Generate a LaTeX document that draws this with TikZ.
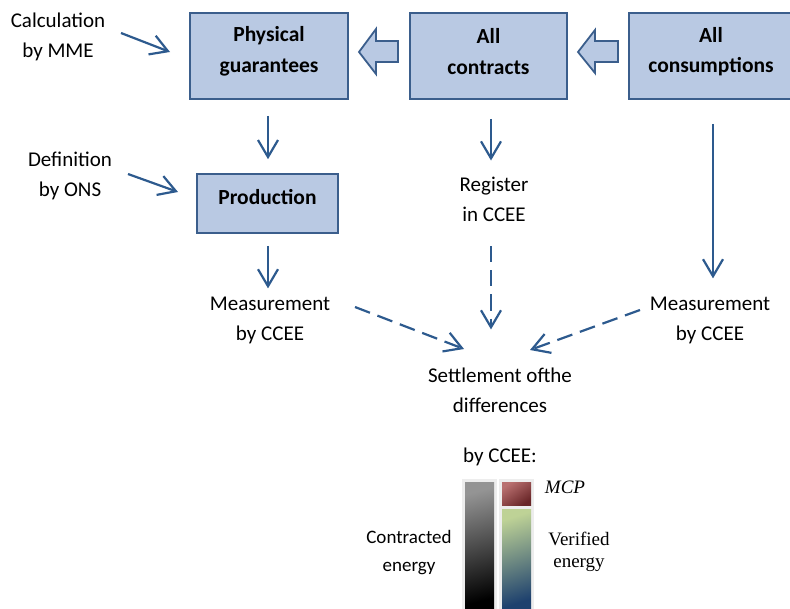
\documentclass[tikz,border=0pt]{standalone}
\usepackage{fontspec}
\setmainfont{Carlito}
\newfontfamily\timesf{Liberation Serif}
\usetikzlibrary{arrows.meta}
\definecolor{boxfill}{HTML}{B9C9E3}
\definecolor{boxline}{HTML}{3B5E8C}
\definecolor{arrc}{HTML}{2D5A8E}
\definecolor{framec}{HTML}{EDEDED}
\tikzset{
  bigbox/.style={draw=boxline, fill=boxfill, line width=1.6pt, inner sep=0pt},
  boxtext/.style={align=center, inner sep=0pt, font=\fontsize{21.5}{30.5}\selectfont\bfseries},
  lbl/.style={align=center, inner sep=0pt, font=\fontsize{21}{30}\selectfont},
  smalllbl/.style={align=center, inner sep=0pt, font=\fontsize{19}{28}\selectfont},
  arr/.style={draw=arrc, line width=2.2pt, -{Straight Barb[length=17pt,width=20pt,line width=2.2pt]}},
  dasharr/.style={arr, dash pattern=on 16pt off 8pt},
  blockarr/.style={draw=boxline, fill=boxfill, line width=1.8pt, line join=miter}
}
\begin{document}
\begin{tikzpicture}[x=1pt,y=-1pt]
\useasboundingbox (0,0) rectangle (790,608);
% boxes
\node[bigbox, minimum width=158pt, minimum height=86pt] (pg) at (269,56) {};
\node[bigbox, minimum width=157pt, minimum height=86pt] (ac) at (488.5,56) {};
\node[bigbox, minimum width=164pt, minimum height=86pt] (acons) at (711,56) {};
\node[bigbox, minimum width=141pt, minimum height=59pt] (prod) at (267.5,203.5) {};
\node[boxtext] (pgt) at ([yshift=4.5pt]pg.center) {Physical\\guarantees};
\node[boxtext] (act) at ([yshift=4.5pt]ac.center) {All\\contracts};
\node[boxtext] (aconst) at ([yshift=4.5pt]acons.center) {All\\consumptions};
\node[boxtext] (prodt) at ([yshift=6pt]prod.center) {Production};
% labels
\node[lbl] (calc) at (58,37) {Calculation\\by MME};
\node[lbl] (defn) at (70,176) {Definition\\by ONS};
\node[lbl] (reg) at (494,199) {Register\\in CCEE};
\node[lbl] (m1) at (270,320) {Measurement\\by CCEE};
\node[lbl] (m2) at (710,320) {Measurement\\by CCEE};
\node[lbl] (settle) at (500,390) {Settlement ofthe\\differences};
\node[lbl] (byccee) at (500,457) {by CCEE:};
\node[smalllbl] (contr) at (409,553) {Contracted\\energy};
\node[inner sep=0pt, font=\fontsize{19}{22}\selectfont\timesf\itshape] (mcp) at (565,487) {MCP};
\node[align=center, inner sep=0pt, font=\fontsize{19}{22}\selectfont\timesf] (ver) at (579,552) {Verified\\energy};
% block arrows
\draw[blockarr] (359,52) -- (376,29) -- (376,41) -- (398,41) -- (398,62) -- (376,62) -- (376,74) -- cycle;
\draw[blockarr] (578,52) -- (595,30) -- (595,41) -- (618,41) -- (618,62) -- (595,62) -- (595,73) -- cycle;
% side arrows
\coordinate (calcA) at (121,33);
\coordinate (calcB) at (170,52);
\coordinate (defA) at (128,174);
\coordinate (defB) at (178,192);
\draw[arr] (calcA) -- (calcB);
\draw[arr] (defA) -- (defB);
% vertical arrows
\draw[arr, shorten <=16pt, shorten >=14pt] (pg.south -| 268,0) -- (prod.north -| 268,0);
\draw[arr, shorten <=12pt, shorten >=8pt] (prod.south -| 268,0) -- (m1.north -| 268,0);
\draw[arr, shorten <=19pt, shorten >=16pt] (ac.south -| 491,0) -- (reg.north -| 491,0);
\draw[dasharr, shorten <=25pt, shorten >=38pt] (reg.south -| 491,0) -- (settle.north -| 491,0);
\draw[arr, shorten <=24pt, shorten >=18pt] (acons.south -| 713,0) -- (m2.north -| 713,0);
% dashed diagonals
\coordinate (m1A) at (355,307);
\coordinate (m1B) at (464,349);
\coordinate (m2A) at (640,310);
\coordinate (m2B) at (530,350);
\draw[dasharr] (m1A) -- (m1B);
\draw[dasharr] (m2A) -- (m2B);
% bars
\fill[framec] (462,479) rectangle (497,610);
\fill[framec] (499,479) rectangle (534,610);
\shade[top color=black!42, bottom color=black, shading angle=15] (465,482) rectangle (494,610);
\shade[top color={rgb,255:red,185;green,112;blue,112}, bottom color={rgb,255:red,105;green,38;blue,40}, shading angle=35] (502,482) rectangle (531,505);
\shade[top color={rgb,255:red,190;green,210;blue,150}, bottom color={rgb,255:red,30;green,65;blue,110}, shading angle=18] (502,509) rectangle (531,610);
\end{tikzpicture}
\end{document}
